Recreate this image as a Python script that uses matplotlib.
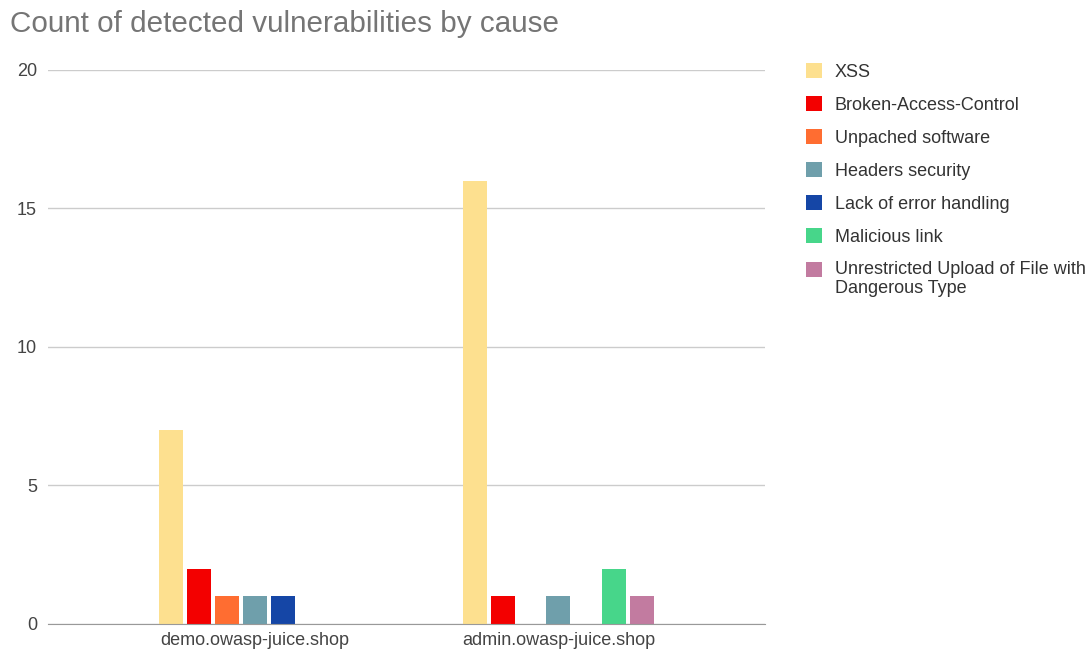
import textwrap
import numpy as np
import matplotlib
matplotlib.use("Agg")
from matplotlib import pyplot as plt
from matplotlib.patches import Patch

sites = ["demo.owasp-juice.shop", "admin.owasp-juice.shop"]
causes = [
    "XSS",
    "Broken-Access-Control",
    "Unpached software",
    "Headers security",
    "Lack of error handling",
    "Malicious link",
    "Unrestricted Upload of File with Dangerous Type",
]
# counts per cause, one value per site
counts = {
    "XSS": [7, 16],
    "Broken-Access-Control": [2, 1],
    "Unpached software": [1, 0],
    "Headers security": [1, 1],
    "Lack of error handling": [1, 0],
    "Malicious link": [0, 2],
    "Unrestricted Upload of File with Dangerous Type": [0, 1],
}
colors = ["#fde08f", "#f30000", "#ff6d31", "#6f9fab", "#1546a6", "#47d68a", "#c27ba0"]
y_ticks = [0, 5, 10, 15, 20]

plt.rcParams["font.family"] = ["Liberation Sans", "DejaVu Sans"]

fig = plt.figure(figsize=(10.89, 6.54), dpi=100)
ax = fig.add_axes([0.0441, 0.0459, 0.6584, 0.8471])

x = np.arange(len(sites))
width = 0.079
step = 0.092
offsets = (np.arange(len(causes)) - (len(causes) - 1) / 2) * step
for off, cause, col in zip(offsets, causes, colors):
    ax.bar(x + off, counts[cause], width, color=col, zorder=3)

ax.set_xlim(-0.68, 1.68)
ax.set_ylim(0, 20)
ax.set_yticks(y_ticks)
ax.set_xticks(x)
ax.set_xticklabels(sites)
ax.tick_params(axis="both", length=0, labelsize=13, labelcolor="#444444")
ax.tick_params(axis="y", pad=8)
ax.tick_params(axis="x", pad=6)
ax.grid(axis="y", color="#cccccc", linewidth=1, zorder=0)
for side in ["top", "right", "left"]:
    ax.spines[side].set_visible(False)
ax.spines["bottom"].set_color("#999999")
ax.spines["bottom"].set_zorder(4)

fig.text(0.009, 0.964, "Count of detected vulnerabilities by cause",
         fontsize=21.3, color="#757575", va="center", ha="left")

handles = [Patch(facecolor=c, edgecolor="none") for c in colors]
labels = [textwrap.fill(c, 32) for c in causes]
leg = fig.legend(handles, labels, loc="upper left", bbox_to_anchor=(0.7335, 0.914),
                 frameon=False, fontsize=13, labelcolor="#333333",
                 handlelength=0.9, handleheight=0.9, handletextpad=0.7,
                 labelspacing=0.84, borderaxespad=0)

# keep swatches of wrapped labels level with the first line of text
for patch, label in zip(leg.legend_handles, labels):
    extra_lines = label.count("\n")
    if extra_lines:
        patch.set_y(patch.get_y() + 6.9 * extra_lines)

fig.savefig("out.png", dpi=100)
